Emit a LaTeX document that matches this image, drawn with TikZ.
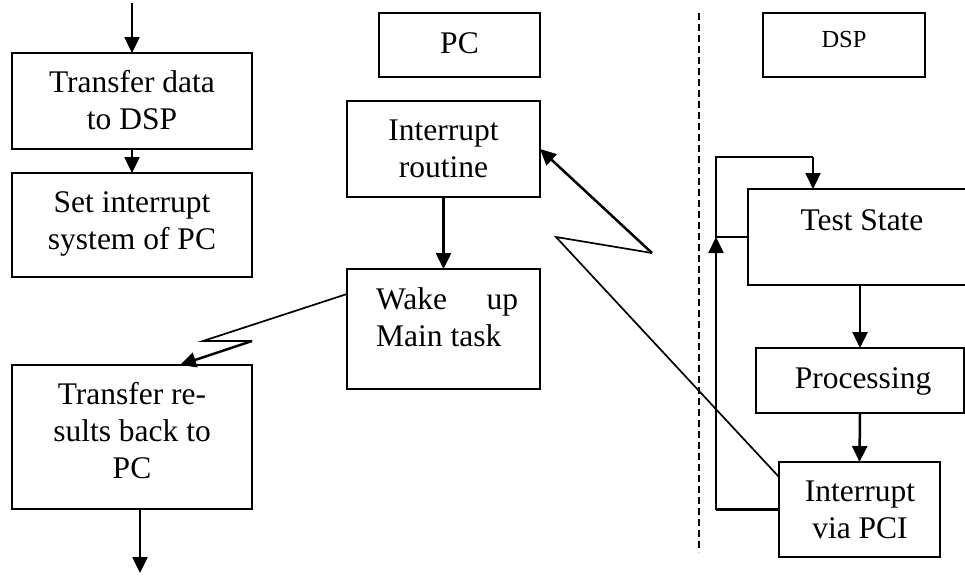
\documentclass[tikz,border=0pt]{standalone}
\usepackage{fontspec}
\setmainfont{Liberation Serif}
\usetikzlibrary{arrows.meta,calc}

\tikzset{
  box/.style={draw, line width=2.2pt, rectangle, inner sep=0pt, outer sep=0pt},
  txt/.style={inner sep=0pt, align=center, font=\fontsize{31.5}{37}\selectfont},
  smalltxt/.style={inner sep=0pt, align=center, font=\fontsize{24.5}{29}\selectfont},
  arr/.style={line width=2.5pt, -{Triangle[length=16pt,width=15pt]}},
  thin/.style={line width=1.7pt},
  loopline/.style={line width=2.1pt},
}

\begin{document}
\begin{tikzpicture}[x=1pt,y=-1pt]
  \clip (0,0) rectangle (965,576);
  \fill[white] (0,0) rectangle (965,576);

  % ---------- left column: main task on the PC ----------
  \node[box, minimum width=240pt, minimum height=96pt]  (b1) at (132,101) {};
  \node[box, minimum width=240pt, minimum height=104pt] (b2) at (132,225) {};
  \node[box, minimum width=240pt, minimum height=144pt] (tr) at (132,437) {};
  \node[txt] (b1t) at (132,103.6) {\strut Transfer data\\to DSP\strut};
  \node[txt] (b2t) at (132,223.6) {\strut Set interrupt\\system of PC\strut};
  \node[txt] (trt) at (132,433.6) {\strut Transfer re-\\sults back to\\PC\strut};

  \coordinate (start) at (132,3);
  \coordinate (finish) at (140,573);
  \draw[arr] (start) -- (b1.north);
  \draw[arr] (b1.south) -- (b2.north);
  \draw[arr] ([xshift=8pt]tr.south) -- (finish);

  % ---------- middle column: PC interrupt handling ----------
  \node[box, minimum width=161pt, minimum height=64pt]  (pc) at (459.5,45) {};
  \node[box, minimum width=193pt, minimum height=96pt]  (ir) at (443.5,149) {};
  \node[box, minimum width=193pt, minimum height=120pt] (wk) at (443.5,329) {};
  \node[txt] (pct) at (459.5,45.6) {\strut PC\strut};
  \node[txt] (irt) at (443.5,152) {\strut Interrupt\\routine\strut};
  \node[txt, align=left, anchor=west] (wkt) at (376,321)
    {\hbox to 142pt{\strut Wake\hfil up}\\Main task\strut};

  \draw[arr] (ir.south) -- (wk.north);

  % wake-up signal to the main task (lightning style)
  \coordinate (zl1) at (203,341);
  \coordinate (zl2) at (252,341);
  \draw[thin] ([yshift=35pt]wk.west) -- (zl1) -- (zl2);
  \draw[arr] (zl2) -- ([xshift=48pt]tr.north);

  % ---------- separator ----------
  \coordinate (sepTop) at (699,13);
  \coordinate (sepBot) at (699,552);
  \draw[line width=1.9pt, dash pattern=on 7pt off 4pt] (sepTop) -- (sepBot);

  % ---------- right column: DSP loop ----------
  \node[box, minimum width=162pt, minimum height=64pt] (dsp) at (844,45) {};
  \node[box, minimum width=224pt, minimum height=96pt] (ts)  at (860,237) {};
  \node[box, minimum width=208pt, minimum height=65pt] (pr)  at (860,380.5) {};
  \node[box, minimum width=161pt, minimum height=95pt] (ip)  at (859.5,509.5) {};
  \node[smalltxt] (dspt) at (844,42) {\strut DSP\strut};
  \node[txt] (tst) at (862,222.6) {\strut Test State\strut};
  \node[txt] (prt) at (863,380.6) {\strut Processing\strut};
  \node[txt] (ipt) at (860,512.6) {\strut Interrupt\\via PCI\strut};

  \draw[arr] (ts.south) -- (pr.north);
  \draw[arr] (pr.south) -- (ip.north);

  % polling loop around the state test
  \coordinate (lp1) at (716,237);
  \coordinate (lp2) at (716,157);
  \coordinate (lp3) at (813,157);
  \draw[loopline] (ts.west) -- (lp1) -- (lp2) -- (lp3);
  \draw[arr, line width=2.1pt] (lp3) -- (ts.north -| lp3);

  % return path from the interrupt back to the loop
  \coordinate (rb) at (716,509.5);
  \draw[loopline] (ip.west) -- (rb);
  \draw[arr] (rb) -- (lp1);

  % interrupt signal from the DSP to the PC routine (lightning style)
  \coordinate (zr1) at (556,237);
  \coordinate (zr2) at (652,253);
  \draw[thin] ([yshift=32.5pt]ip.west) -- (zr1) -- (zr2);
  \draw[arr] (zr2) -- (ir.east);
\end{tikzpicture}
\end{document}
